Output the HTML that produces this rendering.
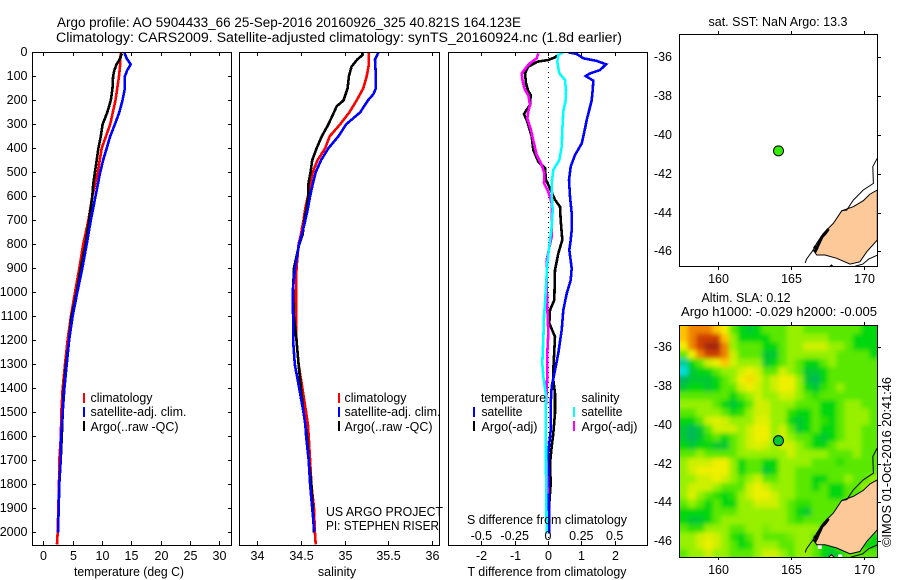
<!DOCTYPE html>
<html><head><meta charset="utf-8"><title>Argo profile</title>
<style>
html,body{margin:0;padding:0;background:#fff}
svg{display:block}
text{font-family:"Liberation Sans",sans-serif;font-size:12.5px;fill:#000}
.c{shape-rendering:crispEdges}
</style></head>
<body>
<svg id="chart" width="900" height="580" viewBox="0 0 900 580" xmlns="http://www.w3.org/2000/svg">
<defs>
<clipPath id="clipA"><rect x="32" y="52" width="200" height="493"/></clipPath>
<clipPath id="clipB"><rect x="239" y="52" width="201" height="493"/></clipPath>
<clipPath id="clipC"><rect x="448" y="52" width="200" height="493"/></clipPath>
<clipPath id="clipM1"><rect x="679" y="34" width="199" height="233"/></clipPath>
<clipPath id="clipM2"><rect x="679" y="325" width="199" height="232"/></clipPath>
<filter id="soft" x="-10%" y="-10%" width="120%" height="120%"><feGaussianBlur stdDeviation="2.5"/></filter>
</defs>
<text x="57" y="27" style="font-size:13.5px" textLength="464" lengthAdjust="spacingAndGlyphs">Argo profile: AO 5904433_66 25-Sep-2016 20160926_325 40.821S 164.123E</text>
<text x="56" y="42" style="font-size:13.5px" textLength="566" lengthAdjust="spacingAndGlyphs">Climatology: CARS2009. Satellite-adjusted climatology: synTS_20160924.nc (1.8d earlier)</text>

<g id="pA" clip-path="url(#clipA)"></g>
<g id="pB" clip-path="url(#clipB)"></g>
<g id="pC" clip-path="url(#clipC)"></g>
<g id="axes"></g>

<rect x="32.5" y="52.5" width="199" height="493" fill="none" stroke="#000" class="c"/>
<rect x="239.5" y="52.5" width="200" height="493" fill="none" stroke="#000" class="c"/>
<rect x="448.5" y="52.5" width="199" height="493" fill="none" stroke="#000" class="c"/>

<text x="129" y="576" text-anchor="middle" textLength="110" lengthAdjust="spacingAndGlyphs">temperature (deg C)</text>
<text x="337" y="576" text-anchor="middle">salinity</text>
<text x="547" y="576" text-anchor="middle" textLength="159" lengthAdjust="spacingAndGlyphs">T difference from climatology</text>
<text x="547" y="524" text-anchor="middle" textLength="160" lengthAdjust="spacingAndGlyphs">S difference from climatology</text>

<g>
<rect x="83" y="393" width="2" height="10" fill="#f00" class="c"/>
<text x="90.5" y="402" textLength="62" lengthAdjust="spacingAndGlyphs">climatology</text>
<rect x="83" y="407" width="2" height="10" fill="#00f" class="c"/>
<text x="90.5" y="416" textLength="96" lengthAdjust="spacingAndGlyphs">satellite-adj. clim.</text>
<rect x="83" y="421" width="2" height="10" fill="#000" class="c"/>
<text x="90.5" y="431" textLength="88" lengthAdjust="spacingAndGlyphs">Argo(..raw -QC)</text>
</g>
<g>
<rect x="338" y="393" width="2" height="10" fill="#f00" class="c"/>
<text x="344.5" y="402" textLength="62" lengthAdjust="spacingAndGlyphs">climatology</text>
<rect x="338" y="407" width="2" height="10" fill="#00f" class="c"/>
<text x="344.5" y="416" textLength="96" lengthAdjust="spacingAndGlyphs">satellite-adj. clim.</text>
<rect x="338" y="421" width="2" height="10" fill="#000" class="c"/>
<text x="344.5" y="431" textLength="88" lengthAdjust="spacingAndGlyphs">Argo(..raw -QC)</text>
</g>
<g>
<text x="481" y="402" textLength="65" lengthAdjust="spacingAndGlyphs">temperature</text>
<rect x="473" y="407" width="2" height="10" fill="#00f" class="c"/>
<text x="481.5" y="416" textLength="41" lengthAdjust="spacingAndGlyphs">satellite</text>
<rect x="473" y="421" width="2" height="10" fill="#000" class="c"/>
<text x="481.5" y="431" textLength="56" lengthAdjust="spacingAndGlyphs">Argo(-adj)</text>
<text x="581.5" y="402" textLength="38" lengthAdjust="spacingAndGlyphs">salinity</text>
<rect x="573" y="407" width="2" height="10" fill="#0ff" class="c"/>
<text x="581.5" y="416" textLength="41" lengthAdjust="spacingAndGlyphs">satellite</text>
<rect x="573" y="421" width="2" height="10" fill="#f0f" class="c"/>
<text x="581.5" y="431" textLength="56" lengthAdjust="spacingAndGlyphs">Argo(-adj)</text>
</g>
<text x="326" y="516" textLength="117" lengthAdjust="spacingAndGlyphs">US ARGO PROJECT</text>
<text x="326" y="530" textLength="113" lengthAdjust="spacingAndGlyphs">PI: STEPHEN RISER</text>

<g id="mapTop" clip-path="url(#clipM1)"></g>
<g id="mapBottom" clip-path="url(#clipM2)"></g>
<g id="mapAxes"></g>
<rect x="679.5" y="34.5" width="198" height="232" fill="none" stroke="#000" class="c"/>
<rect x="679.5" y="325.5" width="198" height="232" fill="none" stroke="#000" class="c"/>
<text x="778" y="26" text-anchor="middle" textLength="139" lengthAdjust="spacingAndGlyphs">sat. SST: NaN Argo: 13.3</text>
<text x="746" y="302" text-anchor="middle" textLength="89" lengthAdjust="spacingAndGlyphs">Altim. SLA: 0.12</text>
<text x="681" y="316" textLength="196" lengthAdjust="spacingAndGlyphs">Argo h1000: -0.029 h2000: -0.005</text>
<text transform="translate(891,547) rotate(-90)" textLength="170" lengthAdjust="spacingAndGlyphs">©IMOS 01-Oct-2016 20:41:46</text>
</svg>
<script>
// ---- profile data (depth in m) ----
const depthTicks = [0,100,200,300,400,500,600,700,800,900,1000,1100,1200,1300,1400,1500,1600,1700,1800,1900,2000];
const tempTicks = [0,5,10,15,20,25,30];
const salTicks = [34,34.5,35,35.5,36];
const salTickLabels = ['34','34.5','35','35.5','36'];
const tDiffTicks = [-2,-1,0,1,2];
const sDiffTicks = [-0.5,-0.25,0,0.25,0.5];
const sDiffTickLabels = ['-0.5','-0.25','0','0.25','0.5'];

const tClimDepth = [0,50,100,200,300,400,500,600,700,800,900,1000,1100,1200,1300,1400,1500,1600,1700,1800,1900,2000,2050];
const tClim = [13.2,13.1,12.9,12.3,11.4,9.95,9.27,8.36,7.68,6.8,6.14,5.4,4.7,4.15,3.7,3.3,3.07,3.0,2.73,2.67,2.56,2.45,2.33];
const tSatDepth = [0,25,50,75,100,150,200,250,300,350,400,450,500,600,700,800,900,1000,1100,1200,1300,1400,1500,1600,1700,1800,1900,2000];
const tSat = [13.8,14.2,14.9,14.3,13.9,13.9,13.5,12.96,12.2,11.4,10.8,10.2,9.7,8.9,8.1,7.4,6.65,5.8,5.0,4.4,3.98,3.6,3.3,3.03,2.96,2.73,2.62,2.5];
const tArgoDepth = [5,30,50,75,100,150,200,250,300,350,400,450,500,550,600,700,800,900,1000,1100,1200,1300,1400,1500,1600,1700,1800,1900,2000];
const tArgo = [13.4,13.0,12.5,12.1,11.9,11.8,11.5,10.9,10.1,9.8,9.4,9.1,8.8,8.5,8.36,7.8,7.2,6.4,5.7,4.8,4.4,3.87,3.5,3.3,3.15,2.96,2.73,2.62,2.5];

const sClimDepth = [0,50,100,150,200,250,300,350,400,450,500,550,600,650,700,760,800,900,1000,1100,1200,1300,1400,1500,1550,1600,1700,1800,1900,2000,2050];
const sClim = [35.28,35.28,35.255,35.216,35.14,35.056,34.95,34.83,34.777,34.69,34.635,34.605,34.58,34.55,34.53,34.5,34.474,34.45,34.444,34.444,34.45,34.474,34.517,34.56,34.58,34.59,34.605,34.62,34.65,34.66,34.67];
const sSatDepth = [0,30,100,150,175,200,250,300,350,400,450,500,550,600,650,700,760,800,900,1000,1100,1200,1300,1400,1500,1550,1600,1700,1800,1900,2000];
const sSat = [35.39,35.35,35.36,35.36,35.33,35.27,35.18,35.02,34.93,34.815,34.73,34.67,34.635,34.605,34.58,34.55,34.51,34.478,34.432,34.405,34.41,34.41,34.43,34.48,34.53,34.55,34.56,34.59,34.605,34.63,34.655];
const sArgoDepth = [0,10,30,60,100,150,200,225,250,300,350,400,450,500,550,600,650,700,760,800,900,1000,1100,1200,1300,1400,1500,1550,1600,1700,1800,1900,2000];
const sArgo = [35.2,35.21,35.147,35.08,35.05,35.035,34.99,34.91,34.88,34.815,34.74,34.68,34.63,34.61,34.585,34.585,34.565,34.54,34.52,34.48,34.42,34.41,34.42,34.45,34.474,34.5,34.53,34.55,34.57,34.59,34.62,34.635,34.65];

const dTSatDepth = [0,7,25,36,50,74,88,99,118,157,199,240,282,338,380,428,476,532,601,671,740,782,824,900,949,1005,1074,1157,1254,1324,1393,1463,1574,1671,2004];
const dTSat = [0.61,0.86,1.06,1.46,1.74,1.56,1.26,1.13,1.36,1.34,1.31,1.24,1.16,1.08,1.01,0.81,0.68,0.63,0.66,0.71,0.71,0.68,0.64,0.71,0.68,0.56,0.46,0.41,0.31,0.21,0.11,0.08,0.08,0.01,0.04];
const dTArgoDepth = [7,21,32,39,60,88,129,163,178,219,257,289,351,407,456,483,532,567,615,643,699,782,838,907,1032,1074,1129,1185,1268,1324,1365,1421,1504,1588,1643,1713,1796,1879,2004];
const dTArgo = [0.36,0.21,0.01,-0.32,-0.59,-0.69,-0.66,-0.59,-0.52,-0.54,-0.72,-0.62,-0.49,-0.44,-0.29,-0.09,-0.06,0.06,0.21,0.36,0.38,0.43,0.31,0.21,0.19,0.06,0.04,0.21,0.18,0.16,0.16,0.21,0.21,0.16,0.11,0.06,0.08,0.04,0.04];
const dSArgoDepth = [4,25,46,60,88,122,157,178,219,247,275,324,379,428,469,504,546,581,629,699,768,865,962,1060,1171,1254,1338,1407,1490,1574,1740,1838];
const dSArgo = [-0.0725,-0.085,-0.135,-0.16,-0.1975,-0.19,-0.1725,-0.1475,-0.135,-0.1475,-0.155,-0.1275,-0.105,-0.085,-0.0475,-0.0275,-0.03,0.0025,0.0275,0.0275,0.0275,-0.01,-0.01,-0.005,0.0025,-0.005,-0.005,-0.01,-0.0175,-0.0175,-0.01,-0.0025];
const dSSatDepth = [0,11,39,88,115,157,199,247,324,393,449,490,546,601,657,726,782,810,879,976,1046,1101,1199,1296,1351,1421,1574,1643,1740,2004];
const dSSat = [0.115,0.0775,0.07,0.085,0.1275,0.135,0.1325,0.115,0.1075,0.1025,0.085,0.04,0.0275,0.0275,0.035,0.0275,0.015,0.01,-0.005,-0.015,-0.0225,-0.03,-0.035,-0.0425,-0.035,-0.0175,-0.0175,-0.015,-0.015,-0.01];

// ---- map data ----
const lonTicks = [160,165,170];
const latTicks = [-36,-38,-40,-42,-44,-46];
const floatLon = 164.123;
const floatLat = -40.821;
const landLon = [170.89,170.39,169.93,169.25,168.45,167.88,167.2,166.74,166.5,166.74,167.31,168.11,169.02,169.7,170.17,170.89];
const landLat = [-42.84,-43.05,-43.39,-43.7,-43.91,-44.56,-45.07,-45.59,-45.93,-46.19,-46.19,-46.36,-46.66,-46.54,-46.02,-45.42];
const shelfLon = [170.89,170.58,170.62,169.93,169.25,168.8,168.45];
const shelfLat = [-41.2,-41.64,-42.5,-42.84,-43.36,-43.87,-43.91];
const southShelfLon = [166.5,166.05,165.95];
const southShelfLat = [-45.93,-46.4,-46.6];
const southCoastLon = [170.89,170.3,169.9,169.0,168.3];
const southCoastLat = [-46.2,-46.4,-46.66,-46.85,-46.85];
const fiordLon = [166.55,166.75,166.6,166.95,167.1,167.3,167.55];
const fiordLat = [-45.75,-45.85,-46.05,-45.5,-45.25,-45.1,-44.85];
const islandLon = [167.55,167.75,167.95,167.75];
const islandLat = [-46.85,-46.7,-46.85,-46.95];
const maskLon = [166.95,168.35];
const maskLat = [-46.3,-46.8];

// sea level anomaly colour levels, north-west to south-east
const slaLevels = [
[7,8,8,8,7,6,3,2,1.5,2,3,3,3,4,4,3,3,3,3,3,3,3,2,2],
[7,8,9,9,9,7,4,2,2,2,2,3,3,4,4,4,4,4,3,3,3,2,2,2],
[6,8,9,10,10,8,4,3,3,3,2,2,3,4,4,5,5,5,4,4,3,2,2,2],
[3,6,8,9,9,8,5,3,3,3,1.5,1.5,3,4,4,4,4,4,4,3,3,3,3,2],
[0.5,2,3,5,6,7,5,4,4,4,1.5,2,3,4,3,2,2,3,4,3,3,3,3,3],
[0,1.5,2,2,3,4,4,5,6,5,3,3,5,4,3,1.5,1.5,2,3,3,3,3,3,3],
[1,1.5,1.5,1.5,2,3,4,6,6.5,5.5,4,5,6,6,4,1.5,1,2,3,3,3,3,3,3],
[1.5,2,2,1.5,2,3,3,5,6,5,4,5,6,6,4,2,1.5,2.5,3,4,3,3,3,3],
[3,3,3,3,3,3,2,3,4,5,4,4,5,5,4,3,2.5,3,3,3,3,3,3,3],
[4,4,4,4,3,2,1.5,2,3,5,5,4,4,4,3,3,3,2,2,3,4,4,3,3],
[3,3,4,4,4,3,2,2.5,4,5,5,4,4,2.5,2,2,3,2,2,3,4,4,4,3],
[2,2,3,5,5.5,5,4,4,4,5.5,5.5,4,4,2,1.5,2,3,2.5,2,3,4,4,4,3],
[1.5,1,1.5,3,5,5,5,4,5,6,6,4,5,3,1.5,2,3,2,2,3,4,4,3,3],
[1.5,1,1.5,2.5,3,2,3,4,5,6,6,4,5,4,3,3,2,1.5,2,3,4,4,3,3],
[2,1.5,2,2,1.5,1.5,3,4,5,5.5,5,4,5,5,4,3,2,2,3,4,4,4,3,3],
[3,3,4,3,3,3,3,4,4,4,4,4,4,5,4,4,4,4,3,3,3,4,3,3],
[4,5,5,5,6,6,4,2,3,3,2,2,4,4,4,4,3,3,3,2.5,3,3,3,3],
[4,5,6,6,6,6,4,2,3,3,1.5,2,4,4,3,3,3,3,3,3,3,3,3,3],
[4,4,5,5,6,5,4,3,4,5,3,3,4,4,3,3,2,2,3,3,4,3,3,4],
[4,5,5,5,4,3,3,3,5,6,5,4,4,4,3,3,2,3,2,2,3,3,4,4],
[4,5.5,4,3,2.5,2,2.5,4,5,6,6,5,4,4,3,3,3,3,2,2,3,3,3,3],
[3,4,3,2,3,2,2,4,4,5,5,5,4,3,2.5,2.5,3,3,3,3,3,3,3,3],
[2,2,2,2,3,3,3,4,4,4,4,4,4,3,2,1.5,3,3,3,3,3,3,3,3],
[2,1.5,1.5,2,3,4,4,4,4,4,4,4,4,3,2.5,3,3,3,3,3,3,3,3,3],
[3,2.5,2.5,4,4,4,3,3,4,4,3.5,4,4,4,4,4,4,3,3,3,3,3,3,3],
[4,4,5,5.5,5,4,2.5,2,3,4,3,3,3,3.5,4,4,3,3,3,3,3,3,3,2],
[4,4,5,6,5,4,3,2,2.5,4,4,4,3,3,4,4,3,2,2,3,3,3,2,2],
[3,4,4,5,4,4,3,3,3,4,5,5,4,3,4,4,3,2,1.5,2,3,3,3,3]
];
const paletteStops = [[0,225,225],[0,185,90],[0,215,10],[90,232,0],[150,240,0],[205,240,0],[238,240,0],[255,195,0],[240,130,0],[205,65,0],[165,40,10]];

// ---- axis functions ----
const NS = 'http://www.w3.org/2000/svg';
const yDepth = d => 52.3 + d * 0.24;
const xTemp = t => 43.3 + t * 5.867;
const xSal = s => 257.3 + (s - 34) * 87.2;
const xTDiff = t => 548 + t * 33.33;
const xSDiff = s => 548 + s * 133.3;
const xLon = lon => 718.3 + (lon - 160) * 14.6;
const yLatTop = lat => 57.3 + (-36 - lat) * 19.4;
const yLatBottom = lat => 347.3 + (-36 - lat) * 19.37;

function make(tag, parent, attrs, txt) {
  const el = document.createElementNS(NS, tag);
  for (const k in attrs) el.setAttribute(k, attrs[k]);
  if (txt !== undefined) el.textContent = txt;
  parent.appendChild(el);
  return el;
}
function profile(parent, xFn, depths, vals, color, name) {
  const pts = depths.map((d, i) => xFn(vals[i]).toFixed(1) + ',' + yDepth(d).toFixed(1)).join(' ');
  const el = make('polyline', parent, {points: pts, fill: 'none', stroke: color, 'stroke-width': 2.6, 'shape-rendering': 'crispEdges'});
  
  
}
function tick(parent, x1, y1, x2, y2) {
  const el = make('line', parent, {x1: x1, y1: y1, x2: x2, y2: y2, stroke: '#000', 'shape-rendering': 'crispEdges'});
  
  
}
function label(parent, x, y, txt, anchor) {
  const el = make('text', parent, {x: x, y: y, 'text-anchor': anchor}, txt);
  
  
}

const pA = document.getElementById('pA');
const pB = document.getElementById('pB');
const pC = document.getElementById('pC');
const axes = document.getElementById('axes');

profile(pA, xTemp, tClimDepth, tClim, '#f00', 'temperature-climatology-line');
profile(pA, xTemp, tArgoDepth, tArgo, '#000', 'temperature-argo-line');
profile(pA, xTemp, tSatDepth, tSat, '#00f', 'temperature-satellite-line');

profile(pB, xSal, sClimDepth, sClim, '#f00', 'salinity-climatology-line');
profile(pB, xSal, sArgoDepth, sArgo, '#000', 'salinity-argo-line');
profile(pB, xSal, sSatDepth, sSat, '#00f', 'salinity-satellite-line');

const zeroLine = make('line', pC, {x1: 548.5, y1: 52, x2: 548.5, y2: 545, stroke: '#000', 'stroke-dasharray': '1 4', 'shape-rendering': 'crispEdges'});


profile(pC, xTDiff, dTArgoDepth, dTArgo, '#000', 't-difference-argo-line');
profile(pC, xTDiff, dTSatDepth, dTSat, '#00f', 't-difference-satellite-line');
profile(pC, xSDiff, dSArgoDepth, dSArgo, '#f0f', 's-difference-argo-line');
profile(pC, xSDiff, dSSatDepth, dSSat, '#0ff', 's-difference-satellite-line');

depthTicks.forEach(d => {
  const y = Math.round(yDepth(d)) + 0.5;
  tick(axes, 32, y, 36, y);
  tick(axes, 228, y, 232, y);
  label(axes, 27.5, y + 3.5, String(d), 'end');
});
tempTicks.forEach(t => {
  const x = Math.round(xTemp(t)) + 0.5;
  tick(axes, x, 52, x, 56);
  tick(axes, x, 541, x, 545);
  label(axes, x, 560, String(t), 'middle');
});
salTicks.forEach((s, i) => {
  const x = Math.round(xSal(s)) + 0.5;
  tick(axes, x, 52, x, 56);
  tick(axes, x, 541, x, 545);
  label(axes, x, 560, salTickLabels[i], 'middle');
});
tDiffTicks.forEach(t => {
  const x = Math.round(xTDiff(t)) + 0.5;
  tick(axes, x, 52, x, 56);
  tick(axes, x, 541, x, 545);
  label(axes, x, 560, String(t), 'middle');
});
sDiffTicks.forEach((s, i) => {
  label(axes, xSDiff(s), 540, sDiffTickLabels[i], 'middle');
});

// ---- maps ----
const mapAxes = document.getElementById('mapAxes');
const mapTop = document.getElementById('mapTop');
const mapBottom = document.getElementById('mapBottom');

function levelColor(v) {
  const i = Math.min(paletteStops.length - 2, Math.floor(v));
  const f = v - i;
  const c = paletteStops[i].map((a, k) => Math.round(a + (paletteStops[i + 1][k] - a) * f));
  return 'rgb(' + c.join(',') + ')';
}
function pointsOf(lons, lats, yFn) {
  return lons.map((lon, i) => xLon(lon).toFixed(1) + ',' + yFn(lats[i]).toFixed(1)).join(' ');
}
function coast(parent, yFn) {
  const land = make('polygon', parent, {points: pointsOf(landLon, landLat, yFn), fill: '#fdc998', stroke: '#000', 'stroke-width': 1});
  
  
  const isle = make('polygon', parent, {points: pointsOf(islandLon, islandLat, yFn), fill: '#fdc998', stroke: '#000', 'stroke-width': 1});
  
  
  [[shelfLon, shelfLat, 1], [southShelfLon, southShelfLat, 1], [southCoastLon, southCoastLat, 1], [fiordLon, fiordLat, 3]].forEach(s => {
    const el = make('polyline', parent, {points: pointsOf(s[0], s[1], yFn), fill: 'none', stroke: '#000', 'stroke-width': s[2]});
    
    
  });
}
function floatMarker(parent, yFn, fill) {
  const ring = make('circle', parent, {cx: xLon(floatLon), cy: yFn(floatLat), r: 5, fill: fill, stroke: '#000', 'stroke-width': 1});
  
  
}

const heat = make('g', mapBottom, {filter: 'url(#soft)'});


const cellW = 198 / slaLevels[0].length;
const cellH = 232 / slaLevels.length;
slaLevels.forEach((row, j) => {
  row.forEach((v, i) => {
    const pad = 20;
    const x0 = 679.5 + i * cellW - (i === 0 ? pad : 0);
    const y0 = 325.5 + j * cellH - (j === 0 ? pad : 0);
    const x1 = 679.5 + (i + 1) * cellW + (i === row.length - 1 ? pad : 0);
    const y1 = 325.5 + (j + 1) * cellH + (j === slaLevels.length - 1 ? pad : 0);
    const cell = make('rect', heat, {x: x0.toFixed(2), y: y0.toFixed(2), width: (x1 - x0 + 0.3).toFixed(2), height: (y1 - y0 + 0.3).toFixed(2), fill: levelColor(v)});
    
    
  });
});
maskLon.forEach((lon, i) => {
  const patch = make('rect', mapBottom, {x: xLon(lon) - 2, y: yLatBottom(maskLat[i]) - 2, width: 4, height: 4, fill: '#fff'});
  
  
});
coast(mapBottom, yLatBottom);
floatMarker(mapBottom, yLatBottom, '#00c832');
coast(mapTop, yLatTop);
floatMarker(mapTop, yLatTop, '#33ee00');

[[yLatTop, 34, 267, 278], [yLatBottom, 325, 557, 569]].forEach(m => {
  lonTicks.forEach(lon => {
    const x = Math.round(xLon(lon)) + 0.5;
    tick(mapAxes, x, m[1] - 3, x, m[1]);
    tick(mapAxes, x, m[2], x, m[2] + 3);
    label(mapAxes, x, m[3] + 5, String(lon), 'middle');
  });
  latTicks.forEach(lat => {
    const y = Math.round(m[0](lat)) + 0.5;
    tick(mapAxes, 878, y, 881, y);
    label(mapAxes, 672, y + 3.5, String(lat), 'end');
  });
});
</script>
</body></html>
